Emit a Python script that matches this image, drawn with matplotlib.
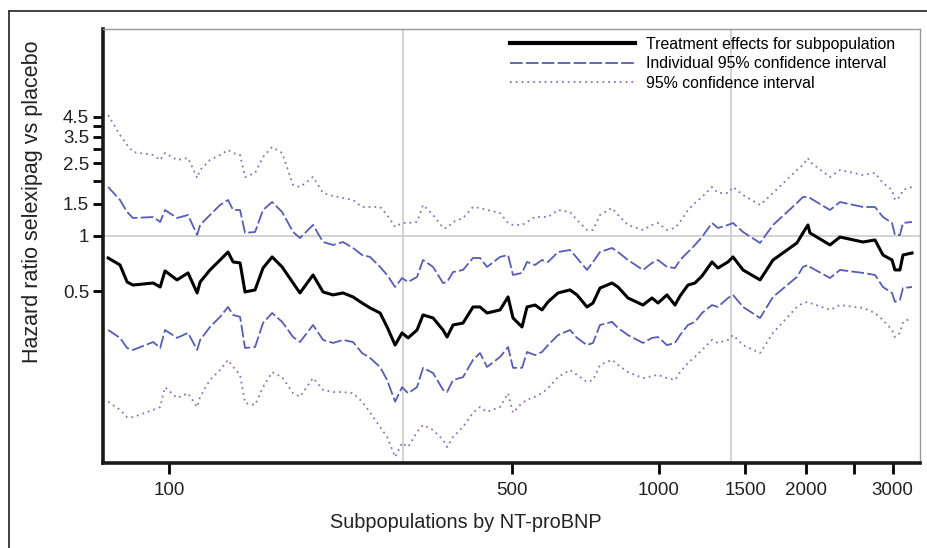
import numpy as np
import matplotlib.pyplot as plt
from matplotlib.lines import Line2D
from matplotlib.ticker import FixedLocator, FixedFormatter, NullLocator

plt.rcParams['font.family'] = ['Liberation Sans', 'DejaVu Sans']

# subpopulation NT-proBNP level and hazard ratios
ntprobnp = [75.1, 79.4, 82.1, 84.4, 92.8, 95.9, 98.1, 103.8, 109.3, 114.1,
            115.7, 121.2, 127.1, 131.9, 135.1, 139.6, 142.9, 149.8, 155.5, 162.3,
            170.1, 179.1,
            185.0, 196.7, 206.2, 216.1, 226.5, 237.4, 247.7, 257.2, 269.6, 278.6,
            289.3, 298.9, 307.5, 320.7, 329.9, 345.8, 362.4, 369.3, 379.9, 398.1,
            417.2, 431.2, 445.7, 473.8, 491.9, 503.5, 525.3, 537.8, 558.4, 577.0,
            593.6, 622.1, 658.2, 680.2, 712.9, 733.3, 757.8, 801.8, 824.7, 864.3,
            927.5, 967.6, 995.4, 1038, 1078, 1104, 1146, 1184, 1224, 1283,
            1319, 1383, 1416,
            1484, 1608, 1709, 1912, 1967, 2014, 2033, 2234, 2341, 2609,
            2760, 2865, 2990, 3031, 3103, 3148, 3284]

hr = [0.758, 0.694, 0.560, 0.539, 0.553, 0.526, 0.644, 0.575, 0.628, 0.488,
      0.560, 0.652, 0.739, 0.817, 0.721, 0.712, 0.494, 0.507, 0.668, 0.768,
      0.677, 0.553,
      0.488, 0.612, 0.494, 0.476, 0.488, 0.464, 0.430, 0.404, 0.379, 0.318,
      0.253, 0.295, 0.277, 0.306, 0.370, 0.356, 0.306, 0.280, 0.326, 0.334,
      0.409, 0.409, 0.379, 0.394, 0.464, 0.356, 0.318, 0.409, 0.419, 0.394,
      0.436, 0.488, 0.507, 0.476, 0.409, 0.430, 0.519, 0.553, 0.526, 0.458,
      0.419, 0.458, 0.430, 0.476, 0.419, 0.470, 0.539, 0.553, 0.604, 0.721,
      0.668, 0.721, 0.768,
      0.652, 0.575, 0.739, 0.916, 1.039, 1.149, 1.039, 0.893, 0.987, 0.927,
      0.951, 0.787, 0.739, 0.652, 0.652, 0.787, 0.807]

ind_hi = [1.853, 1.574, 1.353, 1.254, 1.270, 1.193, 1.387, 1.254, 1.303, 1.013,
          1.149, 1.303, 1.478, 1.574, 1.387, 1.387, 1.039, 1.052, 1.387, 1.534,
          1.353, 1.052,
          0.975, 1.149, 0.927, 0.893, 0.927, 0.860, 0.787, 0.768, 0.677, 0.612,
          0.526, 0.589, 0.560, 0.597, 0.739, 0.677, 0.553, 0.560, 0.635, 0.652,
          0.758, 0.758, 0.677, 0.768, 0.787, 0.612, 0.628, 0.721, 0.694, 0.739,
          0.721, 0.817, 0.838, 0.758, 0.652, 0.721, 0.817, 0.860, 0.817, 0.739,
          0.652, 0.712, 0.739, 0.677, 0.668, 0.739, 0.817, 0.893, 0.987, 1.178,
          1.106, 1.149, 1.178,
          1.052, 0.916, 1.149, 1.515, 1.634, 1.634, 1.614, 1.387, 1.534, 1.441,
          1.441, 1.270, 1.178, 1.013, 1.013, 1.178, 1.193]

ind_lo = [0.306, 0.277, 0.244, 0.238, 0.263, 0.244, 0.306, 0.277, 0.295, 0.238,
          0.270, 0.318, 0.361, 0.409, 0.370, 0.361, 0.244, 0.247, 0.334, 0.379,
          0.339, 0.280,
          0.263, 0.326, 0.270, 0.260, 0.270, 0.263, 0.229, 0.215, 0.192, 0.163,
          0.124, 0.149, 0.138, 0.149, 0.190, 0.178, 0.144, 0.140, 0.163, 0.169,
          0.210, 0.229, 0.192, 0.218, 0.247, 0.190, 0.190, 0.232, 0.223, 0.232,
          0.253, 0.287, 0.306, 0.277, 0.253, 0.260, 0.326, 0.339, 0.314, 0.287,
          0.260, 0.277, 0.280, 0.253, 0.260, 0.287, 0.326, 0.339, 0.379, 0.419,
          0.409, 0.458, 0.476,
          0.409, 0.356, 0.464, 0.597, 0.677, 0.694, 0.677, 0.589, 0.652, 0.628,
          0.612, 0.526, 0.488, 0.436, 0.447, 0.519, 0.526]

sim_hi = [4.590, 3.568, 3.146, 2.880, 2.773, 2.604, 2.844, 2.604, 2.671, 2.076,
          2.296, 2.604, 2.773, 2.954, 2.844, 2.773, 2.102, 2.211, 2.704, 3.068,
          2.844, 1.901,
          1.853, 2.102, 1.719, 1.655, 1.614, 1.574, 1.441, 1.441, 1.441, 1.303,
          1.120, 1.178, 1.178, 1.193, 1.478, 1.303, 1.106, 1.106, 1.193, 1.254,
          1.441, 1.423, 1.387, 1.336, 1.178, 1.149, 1.149, 1.193, 1.270, 1.270,
          1.270, 1.387, 1.353, 1.223, 1.079, 1.079, 1.303, 1.423, 1.303, 1.149,
          1.079, 1.149, 1.178, 1.079, 1.106, 1.193, 1.387, 1.515, 1.634, 1.853,
          1.719, 1.719, 1.853,
          1.676, 1.478, 1.719, 2.296, 2.445, 2.671, 2.540, 2.102, 2.296, 2.156,
          2.211, 1.949, 1.785, 1.574, 1.634, 1.785, 1.853]

sim_lo = [0.124, 0.112, 0.102, 0.102, 0.112, 0.116, 0.149, 0.130, 0.138, 0.116,
          0.132, 0.163, 0.185, 0.210, 0.192, 0.174, 0.122, 0.119, 0.149, 0.180,
          0.169, 0.138,
          0.132, 0.167, 0.144, 0.140, 0.140, 0.138, 0.124, 0.108, 0.0902, 0.0796,
          0.0618, 0.0738, 0.0701, 0.0847, 0.0925, 0.0869, 0.0766, 0.0701, 0.0796, 0.0902,
          0.108, 0.116, 0.109, 0.116, 0.138, 0.108, 0.122, 0.127, 0.132, 0.138,
          0.147, 0.169, 0.185, 0.174, 0.159, 0.163, 0.197, 0.210, 0.197, 0.180,
          0.167, 0.171, 0.174, 0.167, 0.163, 0.180, 0.202, 0.218, 0.238, 0.270,
          0.260, 0.270, 0.287,
          0.253, 0.229, 0.295, 0.409, 0.430, 0.436, 0.430, 0.394, 0.419, 0.404,
          0.379, 0.347, 0.306, 0.280, 0.295, 0.339, 0.356]

ref_x = [300, 1400]
x_ticks = [100, 500, 1000, 1500, 2000, 2500, 3000]
x_labels = ['100', '500', '1000', '1500', '2000', '', '3000']
y_ticks = [0.5, 1, 1.5, 2, 2.5, 3, 3.5, 4, 4.5]
y_labels = ['0.5', '1', '1.5', '', '2.5', '', '3.5', '', '4.5']

DASH_COL = '#565db5'
DOT_COL = '#8c70bd'

fig = plt.figure(figsize=(9.28, 5.48), dpi=100)
ax = fig.add_axes([103/928, 1 - 463/548, 817/928, 434/548])

# reference lines
ax.axhline(1, color='#cccccc', lw=1.2, zorder=1)
for xv in ref_x:
  ax.axvline(xv, color='#cccccc', lw=1.2, zorder=1)

ax.plot(ntprobnp, hr, color='black', lw=2.2,
        label='Treatment effects for subpopulation', zorder=4)
ax.plot(ntprobnp, ind_hi, color=DASH_COL, lw=1.3, dashes=(7, 1.8),
        label='Individual 95% confidence interval', zorder=3)
ax.plot(ntprobnp, ind_lo, color=DASH_COL, lw=1.3, dashes=(7, 1.8), zorder=3)
ax.plot(ntprobnp, sim_hi, color=DOT_COL, lw=1.3, dashes=(1, 2.2),
        label='95% confidence interval', zorder=3)
ax.plot(ntprobnp, sim_lo, color=DOT_COL, lw=1.3, dashes=(1, 2.2), zorder=3)

ax.set_xscale('log')
ax.set_yscale('log')
ax.set_xlim(73.3, 3410)
ax.set_ylim(0.0573, 13.56)

ax.xaxis.set_major_locator(FixedLocator(x_ticks))
ax.xaxis.set_major_formatter(FixedFormatter(x_labels))
ax.xaxis.set_minor_locator(NullLocator())
ax.yaxis.set_major_locator(FixedLocator(y_ticks))
ax.yaxis.set_major_formatter(FixedFormatter(y_labels))
ax.yaxis.set_minor_locator(NullLocator())

ax.tick_params(axis='x', length=8, width=2, pad=6, labelsize=13.5,
               labelcolor='#222222')
ax.tick_params(axis='y', length=7, width=2, pad=3, labelsize=13.5,
               labelcolor='#222222')

for side in ['left', 'bottom']:
  ax.spines[side].set_linewidth(2.6)
  ax.spines[side].set_color('#1a1a1a')
for side in ['top', 'right']:
  ax.spines[side].set_linewidth(1.0)
  ax.spines[side].set_color('#999999')

fig.text(33/928, 1 - 202/548, 'Hazard ratio selexipag vs placebo',
         rotation=90, ha='center', va='center', fontsize=15.5, color='#222222')
fig.text(466/928, 1 - 522/548, 'Subpopulations by NT-proBNP',
         ha='center', va='center', fontsize=14.3, color='#222222')

leg = ax.legend(loc='upper left', bbox_to_anchor=(510/928, 1 - 37/548),
                bbox_transform=fig.transFigure, frameon=False, fontsize=11.4,
                handlelength=7.9, handletextpad=0.7, labelspacing=0.27,
                borderpad=0, borderaxespad=0)
leg.get_lines()[0].set_linewidth(3.0)

# outer frame of the figure panel
fig.add_artist(Line2D([9/928, 9/928], [0, 1 - 11/548],
                      transform=fig.transFigure, color='#333333', lw=1.3))
fig.add_artist(Line2D([9/928, 1], [1 - 11/548, 1 - 11/548],
                      transform=fig.transFigure, color='#333333', lw=1.3))

fig.savefig('out.png', dpi=100)
